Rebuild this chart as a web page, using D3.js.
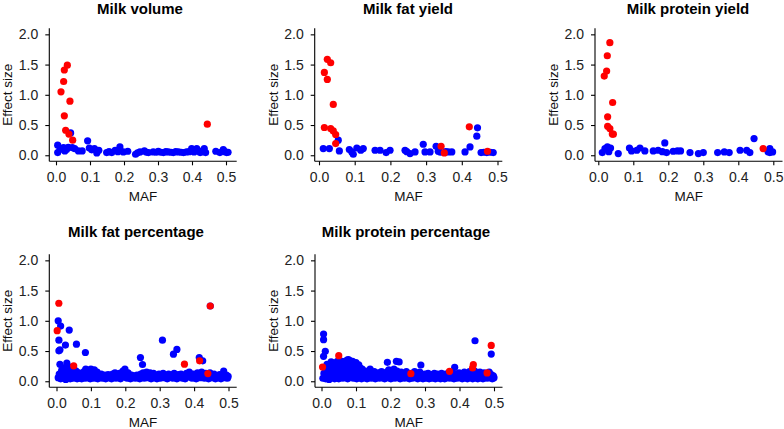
<!DOCTYPE html>
<html><head><meta charset="utf-8">
<script src="https://cdn.jsdelivr.net/npm/d3@7"></script>
<style>body{margin:0;background:#fff} svg{display:block;font-family:"Liberation Sans",Arial,sans-serif}</style>
</head><body>
<svg id="c" width="784" height="429"></svg>
<script>
const titles = ["Milk volume","Milk fat yield","Milk protein yield","Milk fat percentage","Milk protein percentage"];
const xLabel = "MAF";
const yLabel = "Effect size";
const xTicks = [0,0.1,0.2,0.3,0.4,0.5];
const yTicks = [0,0.5,1,1.5,2];

// Milk volume
const volBlue = [[0.005,0.166],[0.005,0.044],[0.012,0.1],[0.022,0.127],[0.026,0.07],[0.031,0.094],[0.036,0.13],[0.043,0.37],[0.048,0.127],[0.055,0.11],[0.066,0.072],[0.077,0.072],[0.093,0.238],[0.098,0.12],[0.105,0.09],[0.113,0.11],[0.12,0.039],[0.126,0.083],[0.149,0.044],[0.156,0.06],[0.164,0.044],[0.174,0.083],[0.182,0.06],[0.188,0.138],[0.198,0.055],[0.211,0.066],[0.234,0.017],[0.24,0.04],[0.247,0.055],[0.26,0.072],[0.266,0.05],[0.272,0.044],[0.286,0.055],[0.295,0.05],[0.301,0.066],[0.308,0.05],[0.316,0.044],[0.323,0.06],[0.33,0.055],[0.338,0.05],[0.345,0.044],[0.352,0.06],[0.36,0.055],[0.368,0.05],[0.375,0.044],[0.384,0.055],[0.392,0.06],[0.399,0.11],[0.406,0.055],[0.414,0.11],[0.42,0.07],[0.424,0.044],[0.43,0.06],[0.436,0.11],[0.44,0.044],[0.47,0.066],[0.482,0.044],[0.492,0.094],[0.497,0.06],[0.502,0.044],[0.506,0.05]];
const volRed = [[0.0333,1.49],[0.0245,1.41],[0.0225,1.22],[0.0147,1.05],[0.041,0.895],[0.0245,0.652],[0.0284,0.414],[0.038,0.35],[0.049,0.25],[0.445,0.514]];

// Milk fat yield
const fatYBlue = [[0.012,0.11],[0.029,0.11],[0.054,0.249],[0.057,0.072],[0.085,0.094],[0.092,0.055],[0.096,0.017],[0.106,0.12],[0.117,0.083],[0.124,0.11],[0.157,0.083],[0.171,0.083],[0.188,0.044],[0.199,0.083],[0.241,0.083],[0.246,0.06],[0.255,0.028],[0.269,0.055],[0.292,0.182],[0.297,0.055],[0.311,0.055],[0.328,0.149],[0.334,0.066],[0.34,0.05],[0.355,0.06],[0.362,0.055],[0.372,0.055],[0.409,0.055],[0.423,0.138],[0.442,0.315],[0.444,0.453],[0.454,0.044],[0.462,0.05],[0.47,0.044],[0.48,0.05],[0.488,0.044]];
const fatYRed = [[0.0233,1.586],[0.0327,1.53],[0.015,1.37],[0.0233,1.254],[0.04,0.84],[0.015,0.459],[0.0327,0.442],[0.04,0.403],[0.0467,0.343],[0.0467,0.193],[0.342,0.149],[0.351,0.039],[0.421,0.47],[0.472,0.066]];

// Milk protein yield
const protYBlue = [[0.0114,0.044],[0.019,0.11],[0.026,0.138],[0.03,0.06],[0.035,0.12],[0.057,0.028],[0.089,0.12],[0.095,0.072],[0.11,0.083],[0.119,0.12],[0.133,0.072],[0.157,0.072],[0.171,0.083],[0.183,0.06],[0.19,0.204],[0.195,0.044],[0.214,0.066],[0.226,0.072],[0.235,0.072],[0.262,0.044],[0.286,0.028],[0.3,0.044],[0.341,0.044],[0.36,0.055],[0.374,0.044],[0.405,0.083],[0.424,0.083],[0.433,0.044],[0.445,0.276],[0.485,0.06],[0.49,0.11],[0.49,0.044],[0.498,0.055]];
const protYRed = [[0.033,1.862],[0.0257,1.646],[0.0238,1.392],[0.017,1.31],[0.041,0.873],[0.0267,0.635],[0.0267,0.48],[0.033,0.442],[0.043,0.348],[0.04,0.35],[0.471,0.11]];

// Milk fat percentage
const fatPBlue = [[0.005,1.0],[0.012,0.913],[0.037,0.847],[0.007,0.68],[0.026,0.598],[0.058,0.614],[0.007,0.504],[0.01,0.52],[0.084,0.476],[0.244,0.393],[0.25,0.277],[0.308,0.68],[0.34,0.448],[0.35,0.526],[0.415,0.393],[0.425,0.338],[0.447,1.245],
[0.005,0.06],[0.008,0.12],[0.01,0.28],[0.012,0.04],[0.015,0.18],[0.018,0.09],[0.02,0.05],[0.022,0.22],[0.025,0.13],[0.027,0.03],[0.03,0.3],[0.032,0.16],[0.034,0.07],[0.036,0.24],[0.038,0.11],[0.04,0.04],[0.042,0.19],[0.044,0.09],[0.046,0.15],[0.048,0.05],[0.05,0.21],[0.052,0.12],[0.055,0.07],[0.057,0.17],[0.06,0.04],[0.062,0.1],[0.065,0.14],[0.068,0.06],[0.07,0.09],[0.073,0.04],[0.076,0.12],[0.078,0.07],[0.08,0.16],[0.083,0.05],[0.085,0.2],[0.088,0.1],[0.09,0.06],[0.093,0.18],[0.095,0.13],[0.098,0.04],[0.1,0.2],[0.102,0.09],[0.105,0.15],[0.108,0.05],[0.11,0.19],[0.113,0.11],[0.116,0.06],[0.118,0.15],[0.12,0.04],[0.123,0.1],[0.126,0.07],[0.13,0.12],[0.133,0.05],[0.136,0.09],[0.14,0.1],[0.143,0.04],[0.146,0.08],[0.15,0.11],[0.153,0.06],[0.156,0.09],[0.16,0.04],[0.163,0.12],[0.166,0.07],[0.17,0.14],[0.173,0.05],[0.176,0.1],[0.18,0.08],[0.183,0.13],[0.186,0.04],[0.19,0.11],[0.193,0.17],[0.196,0.07],[0.199,0.2],[0.202,0.1],[0.205,0.05],[0.208,0.14],[0.212,0.08],[0.215,0.04],[0.218,0.1],[0.222,0.06],[0.226,0.09],[0.23,0.05],[0.234,0.1],[0.238,0.07],[0.242,0.04],[0.245,0.12],[0.248,0.08],[0.252,0.14],[0.255,0.05],[0.258,0.1],[0.262,0.15],[0.265,0.06],[0.268,0.11],[0.272,0.14],[0.275,0.04],[0.278,0.09],[0.282,0.13],[0.285,0.06],[0.288,0.1],[0.292,0.04],[0.295,0.08],[0.298,0.12],[0.302,0.05],[0.306,0.09],[0.31,0.13],[0.314,0.06],[0.318,0.1],[0.322,0.04],[0.326,0.12],[0.33,0.07],[0.334,0.1],[0.338,0.05],[0.342,0.13],[0.346,0.08],[0.35,0.04],[0.354,0.11],[0.358,0.07],[0.362,0.12],[0.366,0.05],[0.37,0.09],[0.374,0.04],[0.378,0.13],[0.382,0.07],[0.386,0.15],[0.39,0.1],[0.394,0.05],[0.398,0.12],[0.402,0.08],[0.406,0.04],[0.41,0.14],[0.414,0.09],[0.418,0.06],[0.422,0.15],[0.426,0.1],[0.43,0.05],[0.434,0.13],[0.438,0.08],[0.442,0.04],[0.446,0.14],[0.45,0.1],[0.454,0.06],[0.458,0.12],[0.462,0.04],[0.466,0.09],[0.47,0.06],[0.474,0.11],[0.478,0.04],[0.482,0.08],[0.486,0.17],[0.49,0.06],[0.494,0.1],[0.497,0.05],[0.499,0.08]];
const fatPRed = [[0.0068,1.29],[0.002,0.836],[0.05,0.255],[0.447,1.245],[0.372,0.282],[0.416,0.338],[0.44,0.127]];

// Milk protein percentage
const protPBlue = [[0.006,0.78],[0.006,0.687],[0.011,0.495],[0.006,0.412],[0.191,0.313],[0.217,0.33],[0.225,0.319],[0.288,0.269],[0.386,0.23],[0.445,0.67],[0.492,0.45],[0.078,0.357],[0.09,0.33],
[0.004,0.05],[0.007,0.13],[0.01,0.22],[0.012,0.04],[0.014,0.1],[0.016,0.28],[0.018,0.07],[0.02,0.17],[0.022,0.03],[0.024,0.24],[0.026,0.12],[0.028,0.32],[0.03,0.06],[0.032,0.19],[0.034,0.1],[0.036,0.3],[0.038,0.04],[0.04,0.15],[0.042,0.25],[0.044,0.08],[0.046,0.33],[0.048,0.12],[0.05,0.04],[0.052,0.2],[0.054,0.28],[0.056,0.09],[0.058,0.15],[0.06,0.33],[0.062,0.05],[0.064,0.22],[0.066,0.12],[0.068,0.3],[0.07,0.08],[0.072,0.18],[0.074,0.35],[0.076,0.04],[0.078,0.25],[0.08,0.13],[0.082,0.34],[0.084,0.07],[0.086,0.2],[0.088,0.1],[0.09,0.3],[0.092,0.05],[0.094,0.16],[0.096,0.25],[0.098,0.09],[0.1,0.31],[0.102,0.04],[0.104,0.19],[0.106,0.12],[0.108,0.27],[0.11,0.07],[0.112,0.22],[0.114,0.14],[0.116,0.04],[0.118,0.2],[0.12,0.1],[0.123,0.06],[0.126,0.17],[0.129,0.12],[0.132,0.04],[0.135,0.15],[0.138,0.08],[0.141,0.2],[0.144,0.05],[0.147,0.12],[0.15,0.09],[0.153,0.16],[0.156,0.04],[0.159,0.11],[0.162,0.07],[0.165,0.14],[0.168,0.05],[0.171,0.1],[0.174,0.16],[0.177,0.06],[0.18,0.12],[0.183,0.04],[0.186,0.09],[0.189,0.15],[0.192,0.06],[0.195,0.19],[0.198,0.1],[0.201,0.04],[0.204,0.14],[0.207,0.08],[0.21,0.2],[0.213,0.05],[0.216,0.12],[0.219,0.17],[0.222,0.07],[0.225,0.1],[0.228,0.04],[0.231,0.15],[0.234,0.08],[0.237,0.12],[0.24,0.05],[0.243,0.1],[0.246,0.16],[0.249,0.06],[0.252,0.11],[0.255,0.04],[0.258,0.08],[0.261,0.13],[0.264,0.05],[0.267,0.1],[0.27,0.16],[0.273,0.07],[0.276,0.12],[0.279,0.04],[0.282,0.09],[0.285,0.15],[0.288,0.06],[0.291,0.11],[0.294,0.04],[0.297,0.08],[0.3,0.12],[0.303,0.05],[0.306,0.09],[0.309,0.13],[0.312,0.04],[0.315,0.07],[0.318,0.11],[0.321,0.05],[0.324,0.09],[0.327,0.13],[0.33,0.04],[0.333,0.08],[0.336,0.12],[0.339,0.06],[0.342,0.1],[0.345,0.04],[0.348,0.13],[0.351,0.07],[0.354,0.1],[0.357,0.04],[0.36,0.12],[0.363,0.06],[0.366,0.09],[0.369,0.14],[0.372,0.05],[0.375,0.1],[0.378,0.07],[0.381,0.13],[0.384,0.04],[0.387,0.09],[0.39,0.12],[0.393,0.05],[0.396,0.1],[0.399,0.14],[0.402,0.06],[0.405,0.11],[0.408,0.04],[0.411,0.08],[0.414,0.15],[0.417,0.06],[0.42,0.12],[0.423,0.04],[0.426,0.09],[0.429,0.16],[0.432,0.07],[0.435,0.12],[0.438,0.04],[0.441,0.1],[0.444,0.17],[0.447,0.06],[0.45,0.13],[0.453,0.04],[0.456,0.09],[0.459,0.15],[0.462,0.06],[0.465,0.11],[0.468,0.04],[0.471,0.14],[0.474,0.08],[0.477,0.12],[0.48,0.05],[0.483,0.1],[0.486,0.15],[0.489,0.06],[0.492,0.11],[0.495,0.04],[0.498,0.09],[0.5,0.06]];
const protPRed = [[0.003,0.236],[0.05,0.423],[0.259,0.126],[0.371,0.165],[0.44,0.275],[0.438,0.22],[0.48,0.137],[0.492,0.593]];

const panels = [
  {title:titles[0], blue:volBlue,   red:volRed,   left:49.3,  right:236.7, x0:56,    x5:226,   row:0, tx:140},
  {title:titles[1], blue:fatYBlue,  red:fatYRed,  left:314.7, right:502.3, x0:319,   x5:497.5, row:0, tx:408},
  {title:titles[2], blue:protYBlue, red:protYRed, left:595,   right:782.5, x0:598.3, x5:773.3, row:0, tx:688},
  {title:titles[3], blue:fatPBlue,  red:fatPRed,  left:49.3,  right:236.7, x0:56.5,  x5:228.5, row:1, tx:136},
  {title:titles[4], blue:protPBlue, red:protPRed, left:315,   right:502.5, x0:321.5, x5:494,   row:1, tx:406}
];

const svg = d3.select("#c");
const fmt = d3.format(".1f");

panels.forEach(p => {
  const dy = p.row * 226;
  const top = 28.3 + dy, bottom = 161.3 + dy;
  const x = d3.scaleLinear().domain([0, 0.5]).range([p.x0, p.x5]);
  const y = d3.scaleLinear().domain([-0.1, 2.1]).range([bottom, top]);
  const g = svg.append("g");

  g.append("g").selectAll("circle").data(p.blue).join("circle")
    .attr("cx", d => x(d[0])).attr("cy", d => y(d[1])).attr("r", 3.6).attr("fill", "#0000ff");
  g.append("g").selectAll("circle").data(p.red).join("circle")
    .attr("cx", d => x(d[0])).attr("cy", d => y(d[1])).attr("r", 3.6).attr("fill", "#ff0000");

  const xa = g.append("g").attr("transform", `translate(0,${bottom})`)
    .call(d3.axisBottom(x).tickValues(xTicks).tickFormat(fmt).tickSize(4).tickPadding(7).tickSizeOuter(0));
  xa.select(".domain").remove();
  xa.append("line").attr("x1", p.left).attr("x2", p.right).attr("y1", 0).attr("y2", 0).attr("stroke", "#000").attr("stroke-width", 1.1);
  xa.selectAll("text").attr("font-size", 14).attr("fill", "#222").attr("font-family", "Liberation Sans, Arial, sans-serif");
  xa.selectAll(".tick line").attr("stroke", "#000").attr("stroke-width", 1.1);

  const ya = g.append("g").attr("transform", `translate(${p.left},0)`)
    .call(d3.axisLeft(y).tickValues(yTicks).tickFormat(fmt).tickSize(4).tickPadding(7).tickSizeOuter(0));
  ya.select(".domain").remove();
  ya.append("line").attr("x1", 0).attr("x2", 0).attr("y1", top).attr("y2", bottom).attr("stroke", "#000").attr("stroke-width", 1.1);
  ya.selectAll("text").attr("font-size", 14).attr("fill", "#222").attr("font-family", "Liberation Sans, Arial, sans-serif");
  ya.selectAll(".tick line").attr("stroke", "#000").attr("stroke-width", 1.1);

  g.append("text").attr("x", p.tx).attr("y", p.row ? 237 : 13.5)
    .attr("text-anchor", "middle").attr("font-size", 15).attr("font-weight", "bold").attr("fill", "#000").text(p.title);
  g.append("text").attr("x", (p.left + p.right) / 2).attr("y", bottom + 40)
    .attr("text-anchor", "middle").attr("font-size", 13.5).attr("fill", "#111").text(xLabel);
  g.append("text").attr("transform", `translate(${p.left - 37},${(top + bottom) / 2}) rotate(-90)`)
    .attr("text-anchor", "middle").attr("font-size", 13.5).attr("fill", "#111").text(yLabel);
});
</script>
</body></html>
